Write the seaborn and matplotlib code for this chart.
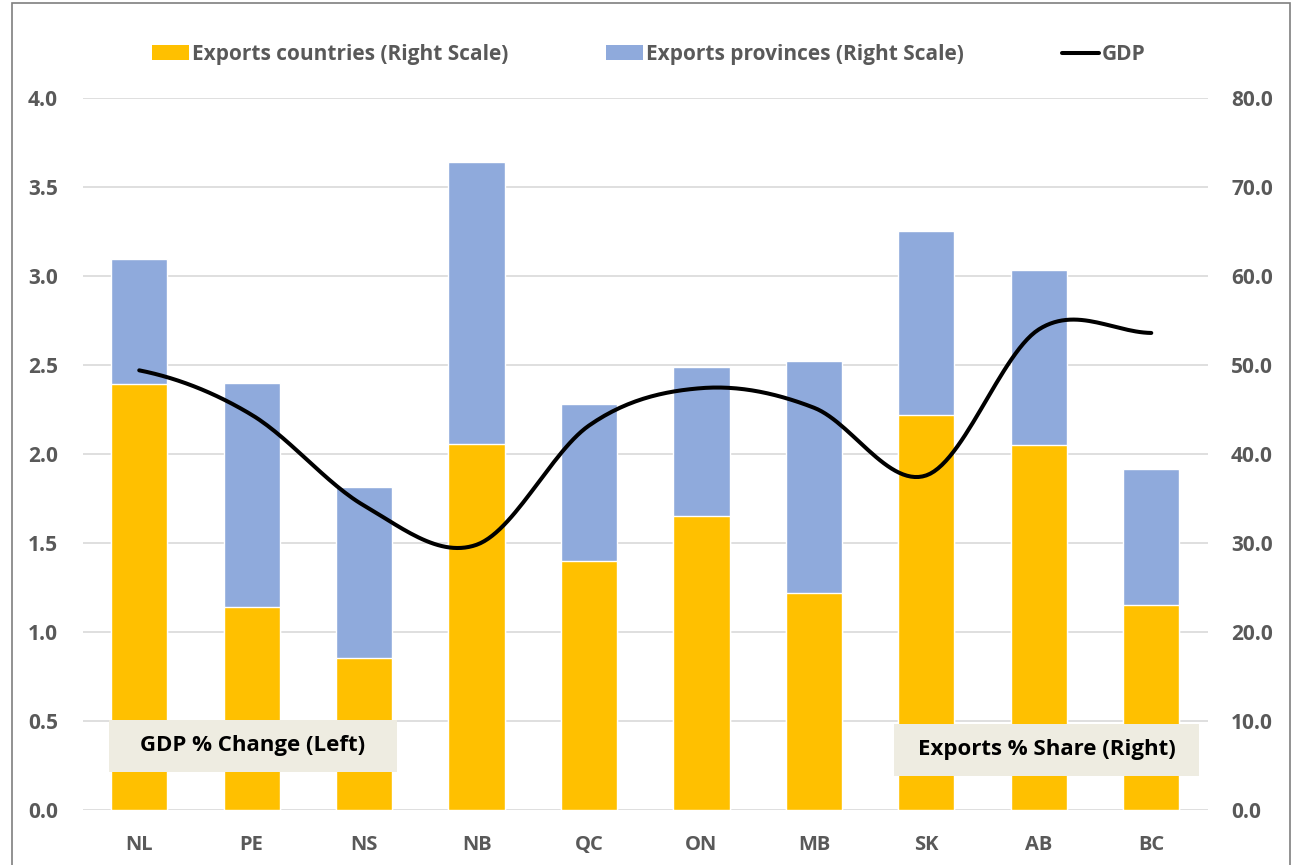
import matplotlib
matplotlib.use("Agg")
import matplotlib.pyplot as plt
from matplotlib.patches import Patch, Rectangle
from matplotlib.lines import Line2D
import seaborn as sns
import numpy as np
import pandas as pd

# data
provinces = ["NL", "PE", "NS", "NB", "QC", "ON", "MB", "SK", "AB", "BC"]
exports_countries = [47.9, 22.8, 17.1, 41.1, 28.0, 33.0, 24.4, 44.4, 41.0, 23.0]
exports_total = [61.9, 48.0, 36.3, 72.8, 45.6, 49.8, 50.4, 65.1, 60.7, 38.3]
gdp = [2.47, 2.22, 1.71, 1.49, 2.16, 2.37, 2.26, 1.88, 2.70, 2.68]

left_ticks = [0.0, 0.5, 1.0, 1.5, 2.0, 2.5, 3.0, 3.5, 4.0]
right_ticks = [0, 10, 20, 30, 40, 50, 60, 70, 80]

sns.set_style("white")
plt.rcParams['font.family'] = ['Open Sans', 'DejaVu Sans']

YELLOW = "#FFC000"
BLUE = "#8FAADC"
GREY = "#595959"

df = pd.DataFrame({"prov": provinces, "countries": exports_countries,
                   "total": exports_total, "gdp": gdp})

fig = plt.figure(figsize=(12.97, 8.65), dpi=100)
ax = fig.add_axes([0.064, 0.0636, 0.867, 0.8231])
ax2 = ax.twinx()

# stacked bars on the right scale
sns.barplot(data=df, x="prov", y="total", color=BLUE, width=0.5,
            saturation=1, ax=ax2, zorder=2)
sns.barplot(data=df, x="prov", y="countries", color=YELLOW, width=0.5,
            saturation=1, ax=ax2, zorder=3)
ax2.set_ylim(0, 80)
ax2.set_yticks(right_ticks)
ax2.set_yticklabels([f"{t:.1f}" for t in right_ticks])
ax2.yaxis.grid(True, color="#D9D9D9", linewidth=1.2, zorder=0)
ax2.set_axisbelow(True)
ax2.set_ylabel("")
ax2.set_xlabel("")

# smoothed GDP line (Catmull-Rom through the points, like Excel smoothing)
p = np.array(gdp)
pts = np.concatenate([[p[0]], p, [p[-1]]])
xs, ys = [], []
t = np.linspace(0, 1, 30)
for i in range(len(p) - 1):
    p0, p1, p2, p3 = pts[i], pts[i + 1], pts[i + 2], pts[i + 3]
    seg = 0.5 * ((2 * p1) + (-p0 + p2) * t + (2 * p0 - 5 * p1 + 4 * p2 - p3) * t ** 2
                 + (-p0 + 3 * p1 - 3 * p2 + p3) * t ** 3)
    xs.extend(i + t)
    ys.extend(seg)
ax.set_zorder(ax2.get_zorder() + 1)
ax.patch.set_visible(False)
sns.lineplot(x=xs, y=ys, ax=ax, color="black", linewidth=2.9, sort=False)
ax.set_ylim(0, 4)
ax.set_xlim(-0.5, 9.5)
ax2.set_xlim(-0.5, 9.5)
ax.set_yticks(left_ticks)
ax.set_yticklabels([f"{t:.1f}" for t in left_ticks])
ax.set_xticks(range(len(provinces)))
ax.set_xticklabels(provinces)

for a in (ax, ax2):
    for s in a.spines.values():
        s.set_visible(False)
    a.tick_params(length=0, labelsize=15, labelcolor=GREY)
    for lab in a.get_yticklabels() + a.get_xticklabels():
        lab.set_fontweight("bold")
ax.tick_params(axis="y", pad=18)
ax.tick_params(axis="x", pad=18, labelsize=14.5)
ax2.tick_params(axis="y", pad=17)

# annotation boxes
def box(x0, y0, x1, y1, text):
    W, H = 1297, 865
    fig.patches.append(Rectangle((x0 / W, 1 - y1 / H), (x1 - x0) / W, (y1 - y0) / H,
                                 transform=fig.transFigure, facecolor="#EEECE1",
                                 edgecolor="none", zorder=10))
    fig.text((x0 + x1) / 2 / W, 1 - (y0 + y1) / 2 / H, text, ha="center", va="center",
             fontsize=16, fontweight="bold", color="black", zorder=11)

box(109, 720, 397, 772, "GDP % Change (Left)")
box(894, 724, 1199, 776, "Exports % Share (Right)")

# legend
handles = [Patch(facecolor=YELLOW, edgecolor="none"),
           Patch(facecolor=BLUE, edgecolor="none"),
           Line2D([0], [0], color="black", linewidth=2.9)]
labels = ["Exports countries (Right Scale)", "Exports provinces (Right Scale)", "GDP"]
leg = fig.legend(handles, labels, loc="center", bbox_to_anchor=(0.5, 0.937), ncol=3,
                 frameon=False, fontsize=15, handlelength=1.8, handletextpad=0.12,
                 columnspacing=4.7)
for txt in leg.get_texts():
    txt.set_color(GREY)
    txt.set_fontweight("bold")

# chart border
fig.patches.append(Rectangle((12 / 1297, -0.05), 1278 / 1297, 1.05 - 3 / 865,
                             transform=fig.transFigure, facecolor="none",
                             edgecolor="#7F7F7F", linewidth=1.2, zorder=20))

fig.savefig("out.png", dpi=100)
